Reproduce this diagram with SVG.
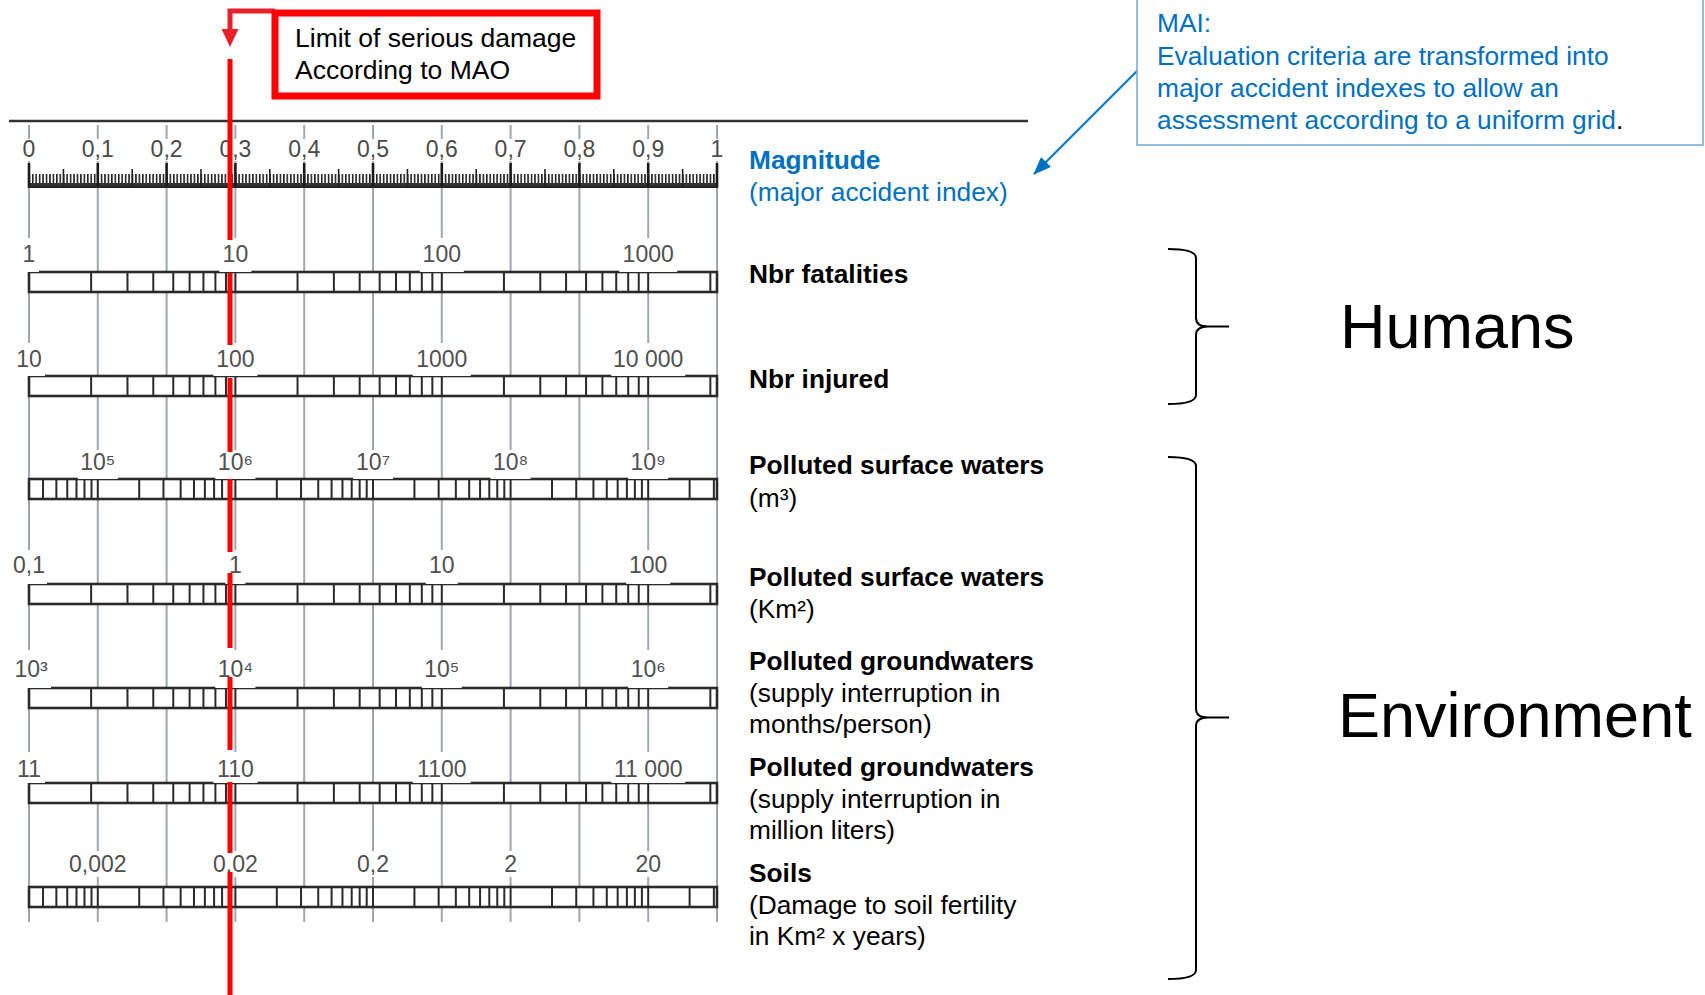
<svg xmlns="http://www.w3.org/2000/svg" width="1705" height="995" viewBox="0 0 1705 995">
<style>
text{font-family:"Liberation Sans",Arial,"DejaVu Sans",sans-serif}
.lbl{font-size:23px;fill:#505050;text-anchor:middle}
.mag{font-size:23px;fill:#4a4a4a;text-anchor:middle}
.grid{stroke:#9fa7b0;stroke-width:2;fill:none}
.bar{fill:#fff;stroke:#2a2a2a;stroke-width:2.6}
.wb{fill:#fff}
.red{stroke:#ff0000;stroke-width:5;fill:none}
.t{font-size:26.3px;fill:#000}
.b{font-weight:bold}
.blue{fill:#0070c0}
.big{font-size:63px;fill:#000}
.brace{fill:none;stroke:#000;stroke-width:2}
</style>
<defs>
<path id="dA" fill="none" stroke="#2a2a2a" stroke-width="2" d="M62.13 0V20M98.48 0V20M124.27 0V20M144.27 0V20M160.61 0V20M174.43 0V20M186.4 0V20M196.95 0V20M206.4 0V20"/>
<path id="dB" fill="none" stroke="#2a2a2a" stroke-width="2" d="M41.42 0V20M65.65 0V20M82.84 0V20M96.18 0V20M107.07 0V20M116.29 0V20M124.27 0V20M131.3 0V20M137.6 0V20"/>
<clipPath id="cl"><rect x="30" y="0" width="686" height="995"/></clipPath>
<pattern id="mm" patternUnits="userSpaceOnUse" x="28.5" y="0" width="3.44" height="995"><rect x="0" y="174" width="1.6" height="13" fill="#222"/></pattern>
<marker id="ab" viewBox="0 0 18 14" refX="17" refY="7" markerWidth="18" markerHeight="14" markerUnits="userSpaceOnUse" orient="auto"><path d="M0,0 L18,7 L0,14 z" fill="#0070c0"/></marker>
</defs>

<!-- grid lines -->
<g id="grid">
<path class="grid" d="M29 125V922M97.8 125V922M166.6 125V922M235.4 125V922M304.2 125V922M373 125V922M441.8 125V922M510.6 125V922M579.4 125V922M648.2 125V922M717 125V922"/>
<line x1="9" y1="121" x2="1028" y2="121" stroke="#333" stroke-width="2.5"/>
</g>

<!-- magnitude scale -->
<g id="magnitude-scale">
<g class="wb">
<rect x="20" y="139" width="18" height="22"/><rect x="79.8" y="139" width="36" height="22"/><rect x="148.6" y="139" width="36" height="22"/><rect x="217.4" y="139" width="36" height="22"/><rect x="286.2" y="139" width="36" height="22"/><rect x="355" y="139" width="36" height="22"/><rect x="423.8" y="139" width="36" height="22"/><rect x="492.6" y="139" width="36" height="22"/><rect x="561.4" y="139" width="36" height="22"/><rect x="630.2" y="139" width="36" height="22"/><rect x="709" y="139" width="16" height="22"/>
</g>
<text class="mag" x="29" y="157">0</text>
<text class="mag" x="97.8" y="157">0,1</text>
<text class="mag" x="166.6" y="157">0,2</text>
<text class="mag" x="235.4" y="157">0,3</text>
<text class="mag" x="304.2" y="157">0,4</text>
<text class="mag" x="373" y="157">0,5</text>
<text class="mag" x="441.8" y="157">0,6</text>
<text class="mag" x="510.6" y="157">0,7</text>
<text class="mag" x="579.4" y="157">0,8</text>
<text class="mag" x="648.2" y="157">0,9</text>
<text class="mag" x="717" y="157">1</text>
<rect x="29" y="163" width="688" height="25" fill="#fff"/>
<rect x="29" y="174" width="688" height="13" fill="url(#mm)"/>
<rect x="29" y="183" width="688" height="4" fill="#333"/>
<path fill="none" stroke="#222" stroke-width="1.6" d="M63.4 169V187M132.2 169V187M201 169V187M269.8 169V187M338.6 169V187M407.4 169V187M476.2 169V187M545 169V187M613.8 169V187M682.6 169V187"/>
<path fill="none" stroke="#1a1a1a" stroke-width="2.6" d="M29 163V188M97.8 163V188M166.6 163V188M235.4 163V188M304.2 163V188M373 163V188M441.8 163V188M510.6 163V188M579.4 163V188M648.2 163V188M717 163V188"/>
<line x1="28" y1="187" x2="718" y2="187" stroke="#222" stroke-width="2"/>
</g>

<!-- scale 1: fatalities -->
<g id="scale-fatalities">
<rect class="bar" x="29" y="272" width="688" height="20"/>
<g clip-path="url(#cl)"><use href="#dA" x="29" y="272"/><use href="#dA" x="235.4" y="272"/><use href="#dA" x="441.8" y="272"/><use href="#dA" x="648.2" y="272"/></g>
<g class="wb"><rect x="19" y="238" width="20" height="34"/><rect x="219.4" y="238" width="32" height="34"/><rect x="419.8" y="238" width="44" height="34"/><rect x="619.2" y="238" width="58" height="34"/></g>
<text class="lbl" x="29" y="262">1</text><text class="lbl" x="235.4" y="262">10</text><text class="lbl" x="441.8" y="262">100</text><text class="lbl" x="648.2" y="262">1000</text>
</g>

<!-- scale 2: injured -->
<g id="scale-injured">
<rect class="bar" x="29" y="376" width="688" height="20"/>
<g clip-path="url(#cl)"><use href="#dA" x="29" y="376"/><use href="#dA" x="235.4" y="376"/><use href="#dA" x="441.8" y="376"/><use href="#dA" x="648.2" y="376"/></g>
<g class="wb"><rect x="13" y="343" width="32" height="33"/><rect x="213.4" y="343" width="44" height="33"/><rect x="412.8" y="343" width="58" height="33"/><rect x="611.2" y="343" width="74" height="33"/></g>
<text class="lbl" x="29" y="367">10</text><text class="lbl" x="235.4" y="367">100</text><text class="lbl" x="441.8" y="367">1000</text><text class="lbl" x="648.2" y="367">10 000</text>
</g>

<!-- scale 3: surface waters m3 -->
<g id="scale-surface-m3">
<rect class="bar" x="29" y="479" width="688" height="20"/>
<g clip-path="url(#cl)"><use href="#dB" x="-39.8" y="479"/><use href="#dB" x="97.8" y="479"/><use href="#dB" x="235.4" y="479"/><use href="#dB" x="373" y="479"/><use href="#dB" x="510.6" y="479"/><use href="#dB" x="648.2" y="479"/></g>
<g class="wb"><rect x="77.8" y="450" width="40" height="29"/><rect x="215.4" y="450" width="40" height="29"/><rect x="353" y="450" width="40" height="29"/><rect x="490.6" y="450" width="40" height="29"/><rect x="628.2" y="450" width="40" height="29"/></g>
<text class="lbl" x="97.8" y="470">10⁵</text><text class="lbl" x="235.4" y="470">10⁶</text><text class="lbl" x="373" y="470">10⁷</text><text class="lbl" x="510.6" y="470">10⁸</text><text class="lbl" x="648.2" y="470">10⁹</text>
</g>

<!-- scale 4: surface waters km2 -->
<g id="scale-surface-km2">
<rect class="bar" x="29" y="584" width="688" height="20"/>
<g clip-path="url(#cl)"><use href="#dA" x="29" y="584"/><use href="#dA" x="235.4" y="584"/><use href="#dA" x="441.8" y="584"/><use href="#dA" x="648.2" y="584"/></g>
<g class="wb"><rect x="11" y="550" width="36" height="34"/><rect x="225.4" y="550" width="20" height="34"/><rect x="425.8" y="550" width="32" height="34"/><rect x="626.2" y="550" width="44" height="34"/></g>
<text class="lbl" x="29" y="573">0,1</text><text class="lbl" x="235.4" y="573">1</text><text class="lbl" x="441.8" y="573">10</text><text class="lbl" x="648.2" y="573">100</text>
</g>

<!-- scale 5: groundwaters months/person -->
<g id="scale-ground-months">
<rect class="bar" x="29" y="688" width="688" height="20"/>
<g clip-path="url(#cl)"><use href="#dA" x="29" y="688"/><use href="#dA" x="235.4" y="688"/><use href="#dA" x="441.8" y="688"/><use href="#dA" x="648.2" y="688"/></g>
<g class="wb"><rect x="11" y="650" width="40" height="38"/><rect x="215.4" y="650" width="40" height="38"/><rect x="421.8" y="650" width="40" height="38"/><rect x="628.2" y="650" width="40" height="38"/></g>
<text class="lbl" x="31" y="677">10³</text><text class="lbl" x="235.4" y="677">10⁴</text><text class="lbl" x="441.8" y="677">10⁵</text><text class="lbl" x="648.2" y="677">10⁶</text>
</g>

<!-- scale 6: groundwaters million liters -->
<g id="scale-ground-liters">
<rect class="bar" x="29" y="783" width="688" height="20"/>
<g clip-path="url(#cl)"><use href="#dA" x="29" y="783"/><use href="#dA" x="235.4" y="783"/><use href="#dA" x="441.8" y="783"/><use href="#dA" x="648.2" y="783"/></g>
<g class="wb"><rect x="13" y="752" width="32" height="31"/><rect x="213.4" y="752" width="44" height="31"/><rect x="412.8" y="752" width="58" height="31"/><rect x="611.2" y="752" width="74" height="31"/></g>
<text class="lbl" x="29" y="777">11</text><text class="lbl" x="235.4" y="777">110</text><text class="lbl" x="441.8" y="777">1100</text><text class="lbl" x="648.2" y="777">11 000</text>
</g>

<!-- scale 7: soils -->
<g id="scale-soils">
<rect class="bar" x="29" y="887" width="688" height="20"/>
<g clip-path="url(#cl)"><use href="#dB" x="-39.8" y="887"/><use href="#dB" x="97.8" y="887"/><use href="#dB" x="235.4" y="887"/><use href="#dB" x="373" y="887"/><use href="#dB" x="510.6" y="887"/><use href="#dB" x="648.2" y="887"/></g>
<g class="wb"><rect x="65.8" y="851" width="64" height="26"/><rect x="209.4" y="851" width="52" height="26"/><rect x="355" y="851" width="36" height="26"/><rect x="500.6" y="851" width="20" height="26"/><rect x="632.2" y="851" width="32" height="26"/></g>
<text class="lbl" x="97.8" y="872">0,002</text><text class="lbl" x="235.4" y="872">0,02</text><text class="lbl" x="373" y="872">0,2</text><text class="lbl" x="510.6" y="872">2</text><text class="lbl" x="648.2" y="872">20</text>
</g>

<!-- connectors -->
<g id="connectors">
<path class="red" d="M230 59V240M230 273V345M230 378V452M230 479V552M230 573V648M230 677V750M230 782V853M230 872V995"/>
<path d="M275 11H230V31" fill="none" stroke="#e8202a" stroke-width="5"/>
<polygon points="221.5,29 238.5,29 230,47" fill="#e8202a"/>
<line x1="1137" y1="71" x2="1034" y2="174" stroke="#0070c0" stroke-width="2" marker-end="url(#ab)"/>
</g>

<!-- limit box -->
<g id="limit-box">
<rect x="275" y="13" width="322" height="83" fill="#fff" stroke="#ff0000" stroke-width="7"/>
<text class="t" x="295" y="47" style="font-size:26.5px">Limit of serious damage</text>
<text class="t" x="295" y="79" style="font-size:26.5px">According to MAO</text>
</g>

<!-- MAI note -->
<g id="mai-note">
<rect x="1137" y="-2" width="566" height="147" fill="#fff" stroke="#6fa8dc" stroke-width="1.5"/>
<text class="t blue" x="1157" y="32">MAI:</text>
<text class="t blue" x="1157" y="65">Evaluation criteria are transformed into</text>
<text class="t blue" x="1157" y="97">major accident indexes to allow an</text>
<text class="t blue" x="1157" y="129">assessment according to a uniform grid<tspan fill="#000">.</tspan></text>
</g>

<!-- scale names -->
<g id="name-magnitude"><text class="t b blue" x="749" y="169">Magnitude</text><text class="t blue" x="749" y="201">(major accident index)</text></g>
<g id="name-fatalities"><text class="t b" x="749" y="283">Nbr fatalities</text></g>
<g id="name-injured"><text class="t b" x="749" y="388">Nbr injured</text></g>
<g id="name-surface-m3"><text class="t b" x="749" y="474">Polluted surface waters</text><text class="t" x="749" y="507">(m³)</text></g>
<g id="name-surface-km2"><text class="t b" x="749" y="586">Polluted surface waters</text><text class="t" x="749" y="618">(Km²)</text></g>
<g id="name-ground-months"><text class="t b" x="749" y="670">Polluted groundwaters</text><text class="t" x="749" y="702">(supply interruption in</text><text class="t" x="749" y="733">months/person)</text></g>
<g id="name-ground-liters"><text class="t b" x="749" y="776">Polluted groundwaters</text><text class="t" x="749" y="808">(supply interruption in</text><text class="t" x="749" y="839">million liters)</text></g>
<g id="name-soils"><text class="t b" x="749" y="882">Soils</text><text class="t" x="749" y="914">(Damage to soil fertility</text><text class="t" x="749" y="945">in Km² x years)</text></g>

<!-- groups -->
<g id="group-humans">
<path class="brace" d="M1168 249Q1196 249 1196 258V318Q1196 326.5 1208 326.5H1229M1208 326.5Q1196 326.5 1196 335V395Q1196 404 1168 404"/>
<text class="big" x="1340" y="348">Humans</text>
</g>
<g id="group-environment">
<path class="brace" d="M1168 457Q1196 457 1196 466V709Q1196 717.5 1208 717.5H1229M1208 717.5Q1196 717.5 1196 726V970Q1196 979 1168 979"/>
<text class="big" x="1338" y="737">Environment</text>
</g>
</svg>
